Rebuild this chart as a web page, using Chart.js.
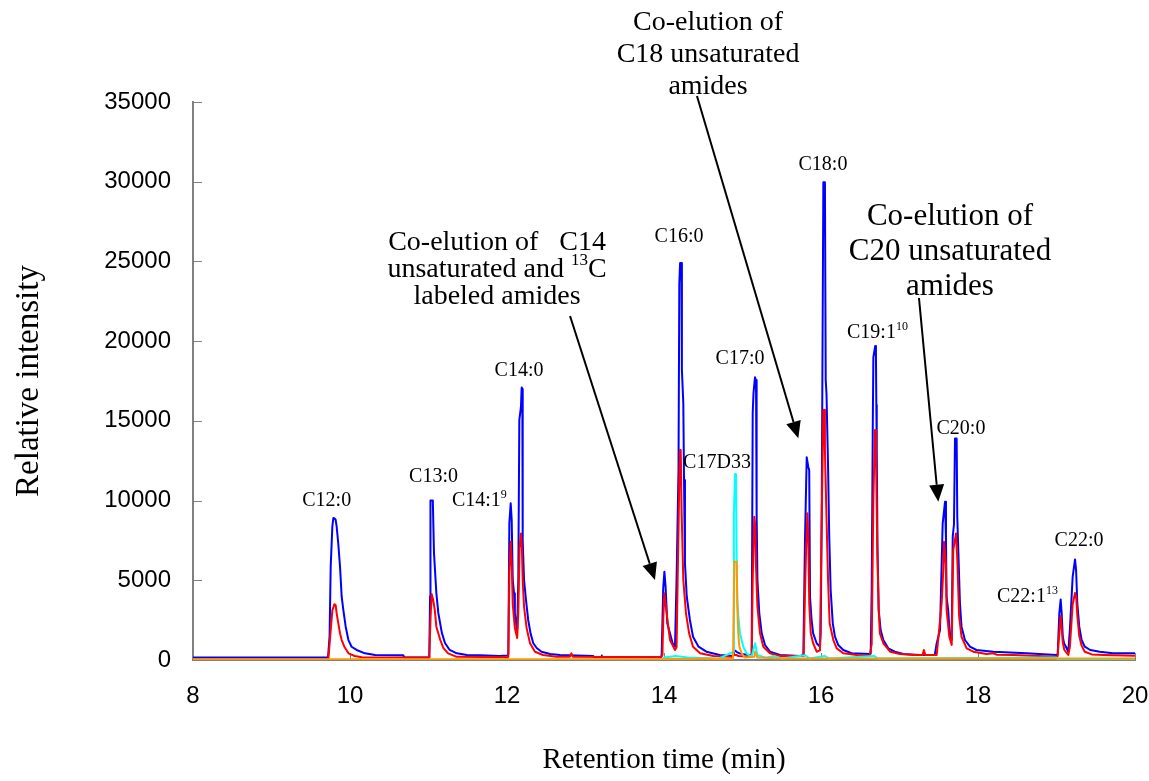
<!DOCTYPE html>
<html><head><meta charset="utf-8">
<script src="https://cdn.jsdelivr.net/npm/chart.js@4.4.1/dist/chart.umd.min.js"></script>
<style>html,body{margin:0;padding:0;background:#fff;}canvas{display:block;}</style>
</head><body>
<canvas id="c" width="1149" height="781"></canvas>
<script>
// ---- data (retention time in min, relative intensity) ----
const blueTime = [8.00,9.72,9.74,9.754,9.775,9.788,9.80,9.817,9.83,9.85,9.873,9.894,9.915,9.945,9.98,10.02,10.085,10.19,10.32,10.68,10.69,11.01,11.02,11.025,11.055,11.07,11.10,11.125,11.17,11.21,11.27,11.36,11.49,11.66,11.90,12.01,12.017,12.03,12.047,12.06,12.073,12.09,12.10,12.124,12.13,12.144,12.157,12.178,12.187,12.195,12.20,12.217,12.242,12.27,12.30,12.335,12.378,12.44,12.55,12.675,13.10,13.11,13.20,13.205,13.21,13.96,13.97,13.99,14.005,14.02,14.042,14.076,14.11,14.14,14.16,14.185,14.195,14.205,14.222,14.228,14.246,14.255,14.267,14.29,14.33,14.37,14.44,14.54,14.71,14.88,14.90,14.93,14.97,15.10,15.117,15.13,15.14,15.159,15.172,15.18,15.19,15.214,15.245,15.287,15.35,15.478,15.73,15.775,15.796,15.818,15.838,15.85,15.86,15.88,15.90,15.945,15.987,15.996,16.009,16.02,16.03,16.05,16.06,16.07,16.09,16.105,16.123,16.15,16.178,16.22,16.284,16.39,16.624,16.633,16.646,16.659,16.667,16.69,16.70,16.705,16.71,16.72,16.735,16.76,16.794,16.857,16.94,17.05,17.26,17.45,17.474,17.516,17.55,17.58,17.592,17.60,17.62,17.64,17.665,17.678,17.694,17.707,17.728,17.736,17.749,17.77,17.79,17.834,17.898,17.98,18.195,18.62,19.00,19.015,19.036,19.053,19.066,19.08,19.096,19.12,19.15,19.17,19.206,19.236,19.25,19.265,19.29,19.32,19.36,19.43,19.55,19.72,20.00];
const blueIntensity = [150,150,1500,5850,8360,8900,8890,8800,8360,7340,5850,3970,3140,2090,1250,830,630,420,314,300,150,150,4000,10000,10000,6700,4200,2950,1700,1070,630,420,314,300,250,280,400,8590,9830,8780,5020,4180,2930,2000,1900,5020,15050,15890,17100,17000,7500,5020,3760,2510,1670,1050,750,520,376,314,250,170,170,280,170,170,300,4500,5540,4600,2300,1670,1050,830,5020,12000,23600,24900,24900,18200,16100,11290,6060,3970,2510,1460,834,520,314,250,600,500,400,300,300,15470,16730,17730,17560,9200,5020,2930,1670,940,520,314,250,300,7530,12710,12120,11900,3970,2510,1670,1050,834,1670,8990,20000,29960,29960,17560,16700,12120,7740,4390,2300,1460,940,627,420,376,400,4390,14240,19000,19690,19000,16000,13170,6900,3136,1880,1254,730,520,376,314,330,1050,1880,8570,9930,7530,3970,3136,1670,1254,7740,8500,13900,13900,8990,6900,3560,2090,1254,834,627,520,420,314,350,2930,3800,2930,1460,1050,834,520,1880,5230,6310,5600,3560,2090,1254,834,627,520,420,420];

const redTime = [8.00,9.724,9.758,9.775,9.80,9.817,9.83,9.851,9.873,9.894,9.928,9.98,10.06,10.15,11.01,11.025,11.04,11.06,11.08,11.10,11.15,11.19,11.25,11.36,12.01,12.017,12.03,12.047,12.06,12.073,12.10,12.13,12.144,12.16,12.178,12.19,12.20,12.217,12.25,12.293,12.357,12.46,12.63,12.80,12.82,12.84,13.96,13.98,13.99,14.005,14.034,14.076,14.14,14.16,14.195,14.204,14.213,14.225,14.246,14.28,14.32,14.37,14.46,14.63,14.86,14.89,14.92,14.95,15.117,15.13,15.15,15.163,15.172,15.19,15.223,15.265,15.35,15.478,15.78,15.796,15.81,15.826,15.838,15.85,15.87,15.90,15.945,15.987,16.009,16.03,16.04,16.05,16.07,16.09,16.11,16.157,16.20,16.284,16.455,16.62,16.646,16.667,16.688,16.70,16.717,16.735,16.75,16.794,16.88,17.006,17.18,17.295,17.31,17.33,17.474,17.537,17.56,17.567,17.59,17.60,17.634,17.665,17.685,17.72,17.736,17.76,17.79,17.856,17.94,18.11,18.195,18.24,18.45,19.00,19.015,19.04,19.053,19.066,19.08,19.10,19.15,19.17,19.206,19.236,19.25,19.265,19.29,19.32,19.36,19.45,19.60,20.00];
const redIntensity = [30,30,2090,3100,3500,3450,2930,2300,1670,1254,834,420,250,170,150,2500,4140,3760,3136,2090,1254,750,420,200,170,200,5500,7420,6000,3500,2000,1380,3000,7000,7940,7000,5000,3340,2000,1050,520,314,210,210,420,210,170,300,2500,4180,2930,1254,627,800,11290,13170,13100,9200,5020,2930,1670,834,420,250,200,314,314,250,200,5020,8990,8400,5850,3340,1670,834,420,250,250,4180,6900,9200,7740,3560,1670,1050,520,600,8990,15680,15700,13170,8990,5020,2300,1254,730,420,314,260,1000,10035,14430,13170,6900,3136,1670,1050,520,376,314,314,627,314,314,3560,5850,7420,6000,3136,1460,940,6900,7940,6300,2720,1460,730,520,376,420,330,314,210,250,2000,2760,2000,1100,627,314,800,3500,4200,4000,2800,1500,900,520,350,314,260];

const cyanTime = [8.00,13.96,14.00,14.15,14.30,14.70,14.883,14.89,14.905,14.917,14.926,14.934,14.946,14.968,15.01,15.05,15.117,15.16,15.19,15.30,15.40,15.50,15.80,15.85,16.05,16.10,16.68,16.72,19.00,19.02,20.00];
const cyanIntensity = [0,0,150,250,150,100,500,9200,11670,11200,6170,3760,2800,1670,834,420,200,1050,300,150,250,100,300,100,250,100,250,100,150,0,0];

const orangeTime = [8.00,13.96,14.10,14.30,14.50,14.70,14.88,14.896,14.926,14.934,14.946,14.96,14.99,15.03,15.15,15.16,15.19,15.50,20.00];
const orangeIntensity = [40,40,80,60,90,60,100,6170,6170,3340,1670,834,420,150,200,520,150,100,100];

const xTickValues = [8,10,12,14,16,18,20];
const yTickValues = [0,5000,10000,15000,20000,25000,30000,35000];

// peak labels anchored at (time, intensity) of their baseline
const peakLabelText = ['C12:0','C13:0','C14:1','C14:0','C16:0','C17D33','C17:0','C18:0','C19:1','C20:0','C22:1','C22:0'];
const peakLabelSup  = ['','','9','','','','','','10','','13',''];
const peakLabelTime = [9.703,11.064,11.299,12.153,14.191,14.675,14.968,16.025,16.331,17.783,18.242,19.287];
const peakLabelInt  = [9659,11145,9659,17812,26217,12042,18565,30733,20196,14175,3638,7150];
const peakLabelAlign= ['center','center','left','center','center','center','center','center','left','center','left','center'];

// annotation arrows: start (time,intensity) -> tip (time,intensity)
const arrowFromTime = [12.803,14.42,17.248];
const arrowFromInt  = [21576,35374,22705];
const arrowToTime   = [13.885,15.711,17.494];
const arrowToInt    = [5018,13905,9929];

const serif = "'Liberation Serif', 'Times New Roman', Times, serif";
const sans = "'Liberation Sans', Arial, Helvetica, sans-serif";

// annotation blocks (center time, first-baseline intensity)
const notes = [
  {t: 11.873, v: 25715, size: 28, gap: 27, lines: [
    [{text:'Co-elution of   C14'}],
    [{text:'unsaturated and '},{text:'13',sup:true},{text:'C'}],
    [{text:'labeled amides'}]]},
  {t: 14.561, v: 39514, size: 28, gap: 32, lines: [
    [{text:'Co-elution of'}],[{text:'C18 unsaturated'}],[{text:'amides'}]]},
  {t: 17.643, v: 27283, size: 31, gap: 35, lines: [
    [{text:'Co-elution of'}],[{text:'C20 unsaturated'}],[{text:'amides'}]]}
];

const toPts = (ts, vs) => ts.map((t, i) => ({x: t, y: vs[i]}));

function drawRich(ctx, parts, x, y, size, align) {
  const supSize = Math.round(size * 0.62);
  let w = 0;
  parts.forEach(p => { ctx.font = (p.sup ? supSize : size) + 'px ' + serif; w += ctx.measureText(p.text).width; });
  let cx = align === 'center' ? x - w / 2 : x;
  parts.forEach(p => {
    const s = p.sup ? supSize : size;
    ctx.font = s + 'px ' + serif;
    ctx.fillText(p.text, cx, p.sup ? y - size * 0.42 : y);
    cx += ctx.measureText(p.text).width;
  });
}

function drawArrow(ctx, x1, y1, x2, y2) {
  const a = Math.atan2(y2 - y1, x2 - x1), L = 17, W = 7.5;
  const bx = x2 - L * Math.cos(a), by = y2 - L * Math.sin(a);
  ctx.strokeStyle = '#000'; ctx.fillStyle = '#000'; ctx.lineWidth = 2;
  ctx.beginPath(); ctx.moveTo(x1, y1); ctx.lineTo(bx, by); ctx.stroke();
  ctx.beginPath(); ctx.moveTo(x2, y2);
  ctx.lineTo(bx + W * Math.sin(a), by - W * Math.cos(a));
  ctx.lineTo(bx - W * Math.sin(a), by + W * Math.cos(a));
  ctx.closePath(); ctx.fill();
}

const overlay = {
  id: 'overlay',
  beforeDatasetsDraw(chart) {
    const {ctx, scales: {x, y}} = chart;
    ctx.save();
    ctx.strokeStyle = '#808080'; ctx.lineWidth = 1;
    yTickValues.forEach(v => {
      const py = Math.round(y.getPixelForValue(v)) + 0.5;
      ctx.beginPath(); ctx.moveTo(x.left, py); ctx.lineTo(x.left + 9, py); ctx.stroke();
    });
    xTickValues.forEach(v => {
      const px = Math.round(x.getPixelForValue(v)) + 0.5;
      ctx.beginPath(); ctx.moveTo(px, y.bottom); ctx.lineTo(px, y.bottom - 7); ctx.stroke();
    });
    ctx.restore();
  },
  afterDraw(chart) {
    const {ctx, scales: {x, y}} = chart;
    ctx.save();
    ctx.fillStyle = '#000'; ctx.textBaseline = 'alphabetic'; ctx.textAlign = 'left';
    peakLabelText.forEach((txt, i) => {
      const parts = [{text: txt}];
      if (peakLabelSup[i]) parts.push({text: peakLabelSup[i], sup: true});
      drawRich(ctx, parts, x.getPixelForValue(peakLabelTime[i]), y.getPixelForValue(peakLabelInt[i]), 20, peakLabelAlign[i]);
    });
    notes.forEach(n => {
      const cx = x.getPixelForValue(n.t), by = y.getPixelForValue(n.v);
      n.lines.forEach((ln, k) => drawRich(ctx, ln, cx, by + k * n.gap, n.size, 'center'));
    });
    arrowFromTime.forEach((t, i) => {
      drawArrow(ctx, x.getPixelForValue(t), y.getPixelForValue(arrowFromInt[i]),
                x.getPixelForValue(arrowToTime[i]), y.getPixelForValue(arrowToInt[i]));
    });
    ctx.restore();
  }
};

const common = {pointRadius: 0, borderWidth: 2, tension: 0, fill: false, borderJoinStyle: 'round'};

new Chart(document.getElementById('c'), {
  type: 'line',
  data: {
    datasets: [
      Object.assign({label: 'orange', data: toPts(orangeTime, orangeIntensity), borderColor: '#FF9900', order: 0}, common),
      Object.assign({label: 'cyan', data: toPts(cyanTime, cyanIntensity), borderColor: '#00FFFF', order: 1}, common),
      Object.assign({label: 'red', data: toPts(redTime, redIntensity), borderColor: '#FF0000', order: 2}, common),
      Object.assign({label: 'blue', data: toPts(blueTime, blueIntensity), borderColor: '#0000FF', order: 3}, common)
    ]
  },
  options: {
    responsive: false, animation: false, devicePixelRatio: 1,
    layout: {padding: {top: 102, right: 14, bottom: 0, left: 0}},
    plugins: {legend: {display: false}, tooltip: {enabled: false}},
    scales: {
      x: {
        type: 'linear', min: 8, max: 20,
        ticks: {stepSize: 2, color: '#000', font: {family: sans, size: 24}, padding: 22, maxRotation: 0},
        grid: {display: false, drawTicks: false},
        border: {display: true, color: '#808080', width: 2},
        title: {display: true, text: 'Retention time (min)', color: '#000', font: {family: serif, size: 29}, padding: {top: 0, bottom: 3}},
        afterFit(s) { s.height = 121; s.paddingLeft = 0; s.paddingRight = 0; }
      },
      y: {
        min: 0, max: 35000,
        ticks: {stepSize: 5000, color: '#000', font: {family: sans, size: 24}, padding: 22,
                callback: v => String(v)},
        grid: {display: false, drawTicks: false},
        border: {display: true, color: '#808080', width: 2},
        title: {display: true, text: 'Relative intensity', color: '#000', font: {family: serif, size: 33}, padding: {top: 10, bottom: 0}},
        afterFit(s) { s.width = 193; }
      }
    }
  },
  plugins: [overlay]
});
</script>
</body></html>
